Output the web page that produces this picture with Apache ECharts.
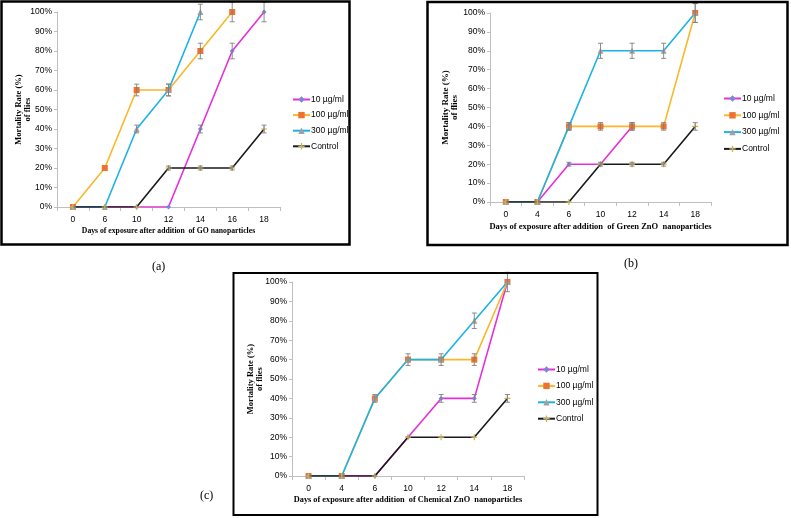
<!DOCTYPE html>
<html>
<head>
<meta charset="utf-8">
<script src="https://cdn.jsdelivr.net/npm/echarts@6/dist/echarts.min.js"></script>
<style>html,body{margin:0;padding:0;background:#fff;}#c{width:791px;height:518px;}</style>
</head>
<body>
<div id="c"></div>
<script>
// ---------- data ----------
const seriesNames = ['10 µg/ml', '100 µg/ml', '300 µg/ml', 'Control'];
const yTicks = [0, 10, 20, 30, 40, 50, 60, 70, 80, 90, 100];

// Panel (a) GO
const daysA = ['0', '6', '10', '12', '14', '16', '18'];
const a10 = [0, 0, 0, 0, 40, 80, 100];
const a100 = [0, 20, 60, 60, 80, 100, null];
const a300 = [0, 0, 40, 60, 100, null, null];
const aCtrl = [0, 0, 0, 20, 20, 20, 40];
const a10Err = [null, null, null, null, 2, 4, 5];
const a100Err = [null, null, 3, 3, 4, 5, null];
const a300Err = [null, null, 2, 3, 4, null, null];
const aCtrlErr = [null, null, null, 1, 1, 1, 2];

// Panel (b) Green ZnO
const daysB = ['0', '4', '6', '10', '12', '14', '18'];
const b10 = [0, 0, 20, 20, 40, null, null];
const b100 = [0, 0, 40, 40, 40, 40, 100];
const b300 = [0, 0, 40, 80, 80, 80, 100];
const bCtrl = [0, 0, 0, 20, 20, 20, 40];
const b10Err = [null, null, 1, null, 2, null, null];
const b100Err = [null, null, 2, 2, 2, 2, 5];
const b300Err = [null, null, 2, 4, 4, 4, 5];
const bCtrlErr = [null, null, null, 1, 1, 1, 2];

// Panel (c) Chemical ZnO
const daysC = ['0', '4', '6', '10', '12', '14', '18'];
const c10 = [0, 0, 0, 20, 40, 40, 100];
const c100 = [0, 0, 40, 60, 60, 60, 100];
const c300 = [0, 0, 40, 60, 60, 80, 100];
const cCtrl = [0, 0, 0, 20, 20, 20, 40];
const c10Err = [null, null, null, null, 2, 2, null];
const c100Err = [null, null, null, null, null, 3, null];
const c300Err = [null, null, 2, 3, 3, 4, 5];
const cCtrlErr = [null, null, null, null, null, null, 2];

const xTitles = [
  'Days of exposure after addition  of GO nanoparticles',
  'Days of exposure after addition  of Green ZnO  nanoparticles',
  'Days of exposure after addition  of Chemical ZnO  nanoparticles'
];
const yTitle = 'Mortality Rate (%)\nof flies';
const panelLabels = ['(a)', '(b)', '(c)'];

// ---------- styling ----------
const lineColors = ['#e62fd9', '#f9b72a', '#1db2e6', '#1a1a1a'];
const markerColors = ['#7b86d6', '#ed7230', '#a0a0a0', '#c9b35a'];
const plusPath = 'path://M4,0H6V4H10V6H6V10H4V6H0V4H4Z';
const markerShapes = ['diamond', 'rect', 'triangle', plusPath];
const markerSizes = [5, 6, 6, 6];

const grids = [
  { left: 57, top: 12, width: 223, height: 195 },
  { left: 490, top: 13, width: 221, height: 189 },
  { left: 292, top: 282, width: 232, height: 194 }
];
const yNameGaps = [25, 31, 28];
const xTitleSizes = [7.7, 8.5, 8.3];
const yTitleSizes = [8.5, 9, 8.5];
const legendPos = [
  { left: 292, top: 95, itemGap: 6.6 },
  { left: 723, top: 94, itemGap: 7.8 },
  { left: 537, top: 365, itemGap: 7.4 }
];
const panels = [
  { days: daysA, vals: [a10, a100, a300, aCtrl], errs: [a10Err, a100Err, a300Err, aCtrlErr] },
  { days: daysB, vals: [b10, b100, b300, bCtrl], errs: [b10Err, b100Err, b300Err, bCtrlErr] },
  { days: daysC, vals: [c10, c100, c300, cCtrl], errs: [c10Err, c100Err, c300Err, cCtrlErr] }
];

const sansFont = '"Liberation Sans Narrow", "Liberation Sans", sans-serif';
const serifFont = '"Liberation Serif", serif';

const xAxes = [], yAxes = [], series = [], legends = [];
panels.forEach((p, gi) => {
  xAxes.push({
    type: 'category', gridIndex: gi, data: p.days, boundaryGap: true,
    name: xTitles[gi], nameLocation: 'middle', nameGap: 20, nameMoveOverlap: false,
    nameTextStyle: { fontFamily: serifFont, fontWeight: 'bold', fontSize: xTitleSizes[gi], color: '#000' },
    axisLine: { lineStyle: { color: '#bfbfbf', width: 1 } },
    axisTick: { show: true, alignWithLabel: false, length: 4, lineStyle: { color: '#bfbfbf' } },
    axisLabel: { fontFamily: sansFont, fontSize: 8.5, color: '#000', margin: 8 }
  });
  yAxes.push({
    type: 'value', gridIndex: gi, min: 0, max: 100, interval: 10,
    name: yTitle, nameLocation: 'middle', nameGap: yNameGaps[gi], nameRotate: 90, nameMoveOverlap: false,
    nameTextStyle: { fontFamily: serifFont, fontWeight: 'bold', fontSize: yTitleSizes[gi], color: '#000', lineHeight: 9 },
    axisLine: { show: true, lineStyle: { color: '#bfbfbf', width: 1 } },
    axisTick: { show: true, length: 3, lineStyle: { color: '#bfbfbf' } },
    splitLine: { show: false },
    axisLabel: { fontFamily: sansFont, fontSize: 8.5, color: '#000', margin: 5, formatter: '{value}%' }
  });
  seriesNames.forEach((nm, si) => {
    series.push({
      type: 'line', name: nm, xAxisIndex: gi, yAxisIndex: gi,
      data: p.vals[si], connectNulls: false,
      symbol: markerShapes[si], symbolSize: markerSizes[si], showSymbol: true,
      lineStyle: { color: lineColors[si], width: 1.6 },
      itemStyle: { color: markerColors[si] },
      z: 2 + si, animation: false
    });
  });
  seriesNames.forEach((nm, si) => {
    const d = [];
    p.errs[si].forEach((e, i) => { if (e != null && p.vals[si][i] != null) d.push([i, p.vals[si][i], e]); });
    series.push({
      type: 'custom', xAxisIndex: gi, yAxisIndex: gi, data: d, z: 10, silent: true,
      animation: false,
      renderItem: function (params, api) {
        const x = api.value(0), y = api.value(1), e = api.value(2);
        const t = api.coord([x, y + e]), b = api.coord([x, y - e]);
        const w = 2.5;
        const st = { stroke: '#7f7f7f', lineWidth: 0.9 };
        return {
          type: 'group', children: [
            { type: 'line', shape: { x1: t[0], y1: t[1], x2: b[0], y2: b[1] }, style: st },
            { type: 'line', shape: { x1: t[0] - w, y1: t[1], x2: t[0] + w, y2: t[1] }, style: st },
            { type: 'line', shape: { x1: b[0] - w, y1: b[1], x2: b[0] + w, y2: b[1] }, style: st }
          ]
        };
      }
    });
  });
  legends.push({
    orient: 'vertical', left: legendPos[gi].left, top: legendPos[gi].top, padding: 0,
    itemGap: legendPos[gi].itemGap, itemWidth: 17, itemHeight: 8,
    data: seriesNames,
    textStyle: { fontFamily: sansFont, fontSize: 8.5, color: '#000', lineHeight: 8, padding: [0, 0, 0, -4] },
    selectedMode: false
  });
});

const graphics = [
  { type: 'rect', shape: { x: 1.5, y: 1.5, width: 348, height: 243 }, style: { fill: 'none', stroke: '#000', lineWidth: 2.5 }, z: 100 },
  { type: 'rect', shape: { x: 427.5, y: 2, width: 360, height: 243 }, style: { fill: 'none', stroke: '#000', lineWidth: 2.5 }, z: 100 },
  { type: 'rect', shape: { x: 233.5, y: 273, width: 364, height: 242 }, style: { fill: 'none', stroke: '#000', lineWidth: 2 }, z: 100 },
  { type: 'text', left: 152, top: 261, style: { text: panelLabels[0], font: '12px ' + serifFont, fill: '#000' } },
  { type: 'text', left: 624, top: 258, style: { text: panelLabels[1], font: '12px ' + serifFont, fill: '#000' } },
  { type: 'text', left: 200, top: 490, style: { text: panelLabels[2], font: '12px ' + serifFont, fill: '#000' } }
];

const chart = echarts.init(document.getElementById('c'), null, { renderer: 'canvas' });
chart.setOption({
  backgroundColor: '#fff',
  animation: false,
  grid: grids,
  xAxis: xAxes,
  yAxis: yAxes,
  legend: legends,
  series: series,
  graphic: graphics
});
</script>
</body>
</html>
